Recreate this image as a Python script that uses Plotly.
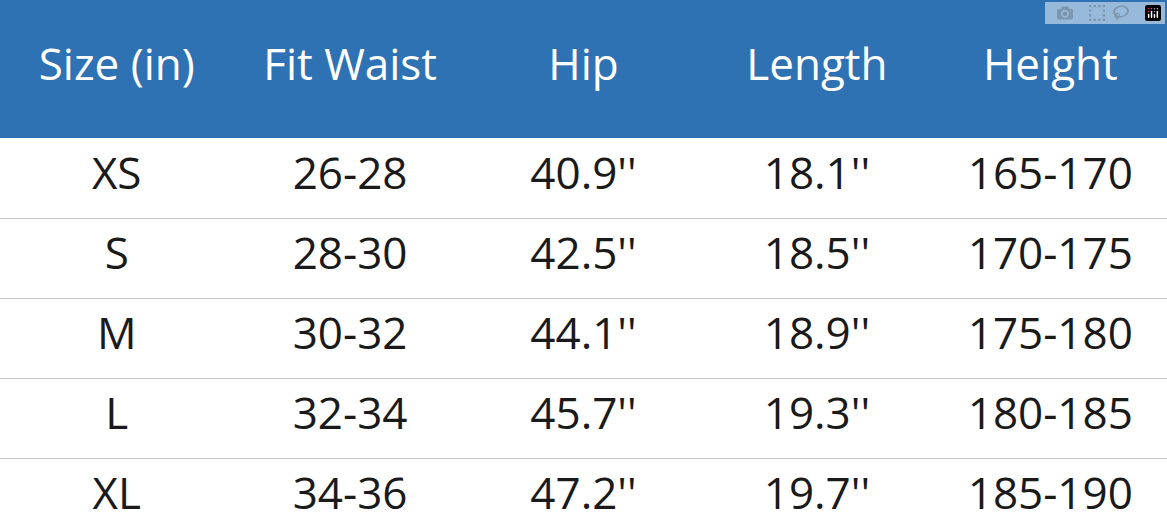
import plotly.graph_objects as go

headers = ["Size (in)", "Fit Waist", "Hip", "Length", "Height"]
sizes = ["XS", "S", "M", "L", "XL"]
fit_waist = ["26-28", "28-30", "30-32", "32-34", "34-36"]
hip = ["40.9''", "42.5''", "44.1''", "45.7''", "47.2''"]
length = ["18.1''", "18.5''", "18.9''", "19.3''", "19.7''"]
height = ["165-170", "170-175", "175-180", "180-185", "185-190"]

columns = [sizes, fit_waist, hip, length, height]
header_y = -1.3625

fig = go.Figure()

# header labels
fig.add_trace(go.Scatter(
    x=list(range(len(headers))), y=[header_y] * len(headers),
    mode="text", text=headers,
    textfont=dict(family="Open Sans", size=44, color="white"),
    hoverinfo="skip"))

# body cells, one trace per column
for ci, col in enumerate(columns):
    fig.add_trace(go.Scatter(
        x=[ci] * len(col), y=list(range(len(col))),
        mode="text", text=col,
        textfont=dict(family="Open Sans", size=44, color="#1a1a1a"),
        hoverinfo="skip"))

fig.add_shape(type="rect", xref="paper", x0=0, x1=1, yref="y", y0=-2.3, y1=-0.5,
              fillcolor="#2f72b4", line_width=0, layer="below")

fig.update_layout(
    width=1167, height=522, margin=dict(l=0, r=0, t=0, b=0),
    paper_bgcolor="white", plot_bgcolor="white", showlegend=False,
    xaxis=dict(range=[-0.5, 4.5], visible=False, fixedrange=True),
    yaxis=dict(range=[4.3, -2.225], tickvals=[0.5, 1.5, 2.5, 3.5],
               showgrid=True, gridcolor="#c8c8c8", gridwidth=1,
               showticklabels=False, zeroline=False, ticks="", fixedrange=True),
)

fig.write_html("out.html", post_script="document.body.style.margin='0';")
